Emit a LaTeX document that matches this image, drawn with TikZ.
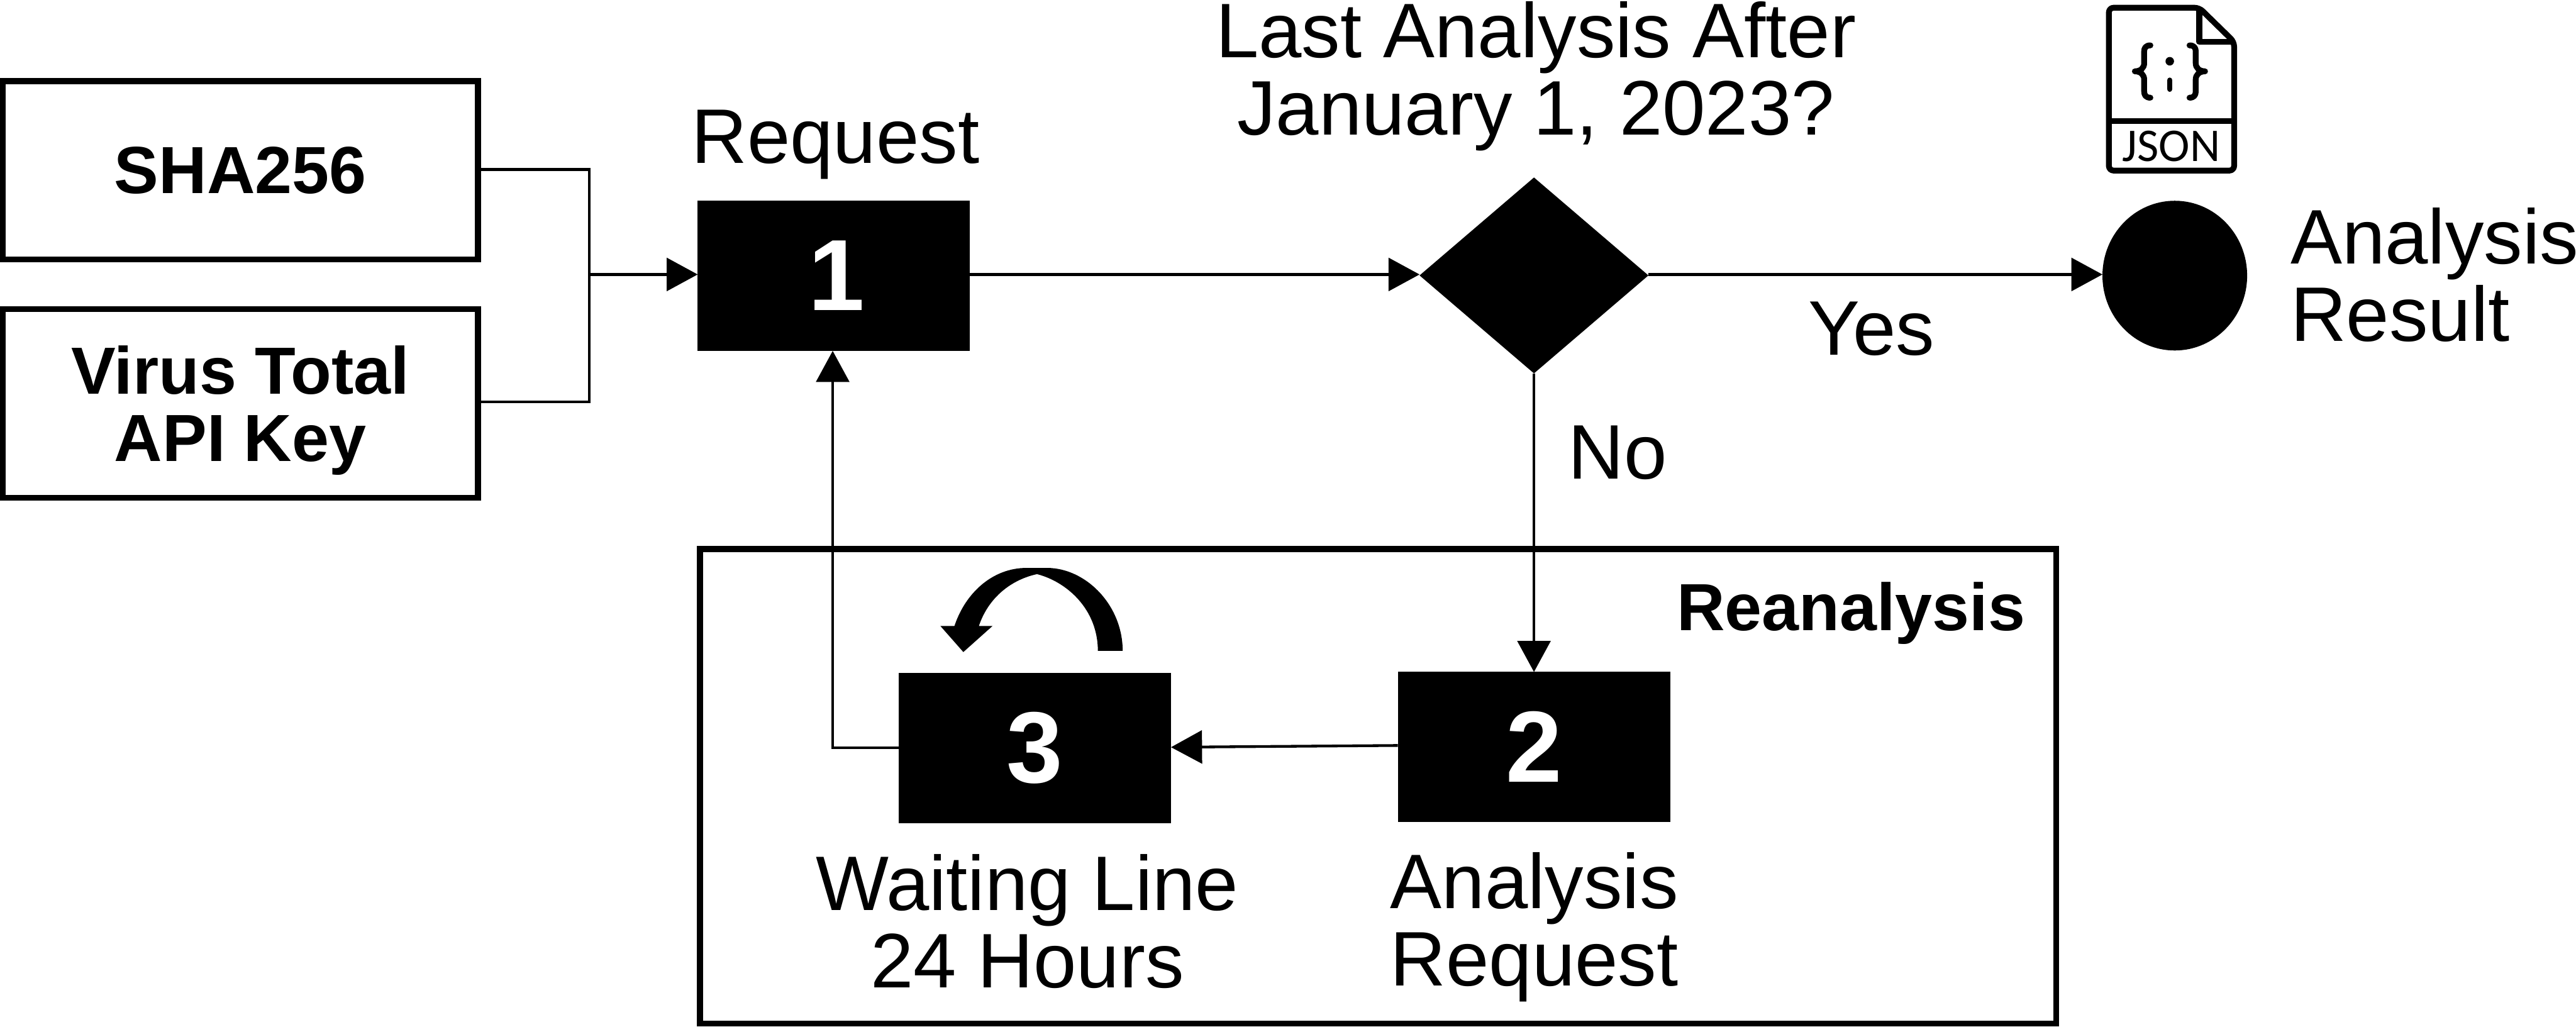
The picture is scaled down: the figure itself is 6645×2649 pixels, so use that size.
\documentclass[tikz,border=0pt]{standalone}
\usepackage{fontspec}
\setmainfont{Liberation Sans}
\newfontfamily\iconfont{Carlito}
\usetikzlibrary{arrows.meta,shapes.geometric}
\tikzset{
  inbox/.style={draw=black,line width=0.15cm,fill=white,inner sep=0,minimum width=12.25cm,align=center,font=\fontsize{48.9}{49.2}\selectfont\bfseries},
  stepbox/.style={fill=black,text=white,inner sep=0,outer sep=0,minimum width=7.02cm,minimum height=3.87cm,font=\fontsize{74.2}{76}\selectfont\bfseries},
  conn/.style={draw=black,line width=0.07cm},
  arr/.style={conn,-{Triangle[length=0.8cm,width=0.85cm]}},
  lab/.style={anchor=base,inner sep=0,align=center,font=\fontsize{56.7}{56.9}\selectfont},
  iconline/.style={line width=0.15cm,line join=round},
  iconbrace/.style={line width=0.15cm,line cap=round,line join=round}
}
\begin{document}
\begin{tikzpicture}[x=0.01cm,y=-0.01cm]
\useasboundingbox (0,0) rectangle (6645,2649);
\coordinate (main) at (0,708);
\coordinate (ya) at (0,437);
\coordinate (yb) at (0,1037);
\coordinate (jn) at (1520,708);
\coordinate (bend) at (2148,1929);
\coordinate (qout) at (0,1923);
\coordinate (win) at (0,1927.5);
% frame
\node[draw=black,line width=0.15cm,inner sep=0,minimum width=34.96cm,minimum height=12.23cm] (frame) at (3554.5,2028) {};
\node[lab,font=\fontsize{48.9}{49.2}\selectfont\bfseries] (rean) at (4775,1626) {Reanalysis};
% inputs
\node[inbox,minimum height=4.59cm] (a) at (620,439) {SHA256};
\node[inbox,minimum height=4.86cm] (b) at (620,1040.5) {Virus Total\\\smash{API Key}};
% steps
\node[stepbox] (r) at (2151,711.5) {\kern0.15cm 1};
\node[stepbox] (w) at (2669.5,1930) {3};
\node[stepbox] (q) at (3957,1927) {2};
\node[diamond,fill=black,inner sep=0,outer sep=0,aspect=1.168,minimum width=5.9cm,minimum height=5.05cm] (d) at (3957,710.5) {};
\node[ellipse,fill=black,inner sep=0,outer sep=0,minimum width=3.73cm,minimum height=3.86cm] (e) at (5610,711) {};
% connectors
\draw[conn] (a.east |- ya) -- (jn |- ya) -- (jn |- yb) -- (b.east |- yb);
\draw[arr] (jn) -- (r.west |- main);
\draw[arr] (r.east |- main) -- (d.west |- main);
\draw[arr] (d.east |- main) -- (e.west |- main);
\draw[arr] (d.south) -- (q.north);
\draw[arr] (q.west |- qout) -- (w.east |- win);
\draw[arr] (w.west |- bend) -- (bend) -- (bend |- r.south);
% labels
\node[lab] (lreq) at (2155,421) {Request};
\node[lab] (lq) at (3962,348) {Last Analysis After\\January 1, 2023?};
\node[lab] (lyes) at (4828,916) {Yes};
\node[lab] (lno) at (4173,1235) {No};
\node[lab,align=left,anchor=base west] (lres) at (5908,880) {Analysis\\Result};
\node[lab] (lwait) at (2650,2548) {Waiting Line\\24 Hours};
\node[lab] (lan) at (3958,2543) {Analysis\\Request};
% curved self arrow
\fill[black] (2896,1679) .. controls (2896,1560) and (2800,1465) .. (2701,1465) -- (2648,1465)
  .. controls (2560,1465) and (2490,1530) .. (2462,1615) -- (2426,1615) -- (2485,1682) -- (2560,1615) -- (2525,1615)
  .. controls (2550,1540) and (2610,1495) .. (2675,1481)
  .. controls (2750,1500) and (2832,1570) .. (2832,1679) -- cycle;
% JSON icon
\draw[iconline,rounded corners=0.12cm] (5673,20) -- (5440,20) -- (5440,440) -- (5763,440) -- (5763,108) -- cycle;
\draw[iconline] (5673,20) -- (5673,108) -- (5763,108);
\draw[iconline] (5440,312) -- (5763,312);
\draw[iconbrace] (5547,117) .. controls (5535,117) and (5531,124) .. (5531,132) -- (5531,163)
  .. controls (5531,175) and (5522,184) .. (5507,184)
  .. controls (5522,184) and (5531,193) .. (5531,205) -- (5531,236)
  .. controls (5531,245) and (5535,252) .. (5547,252);
\draw[iconbrace] (5648,117) .. controls (5660,117) and (5664,124) .. (5664,132) -- (5664,163)
  .. controls (5664,175) and (5673,184) .. (5688,184)
  .. controls (5673,184) and (5664,193) .. (5664,205) -- (5664,236)
  .. controls (5664,245) and (5660,252) .. (5648,252);
\fill[black] (5597,158) circle (0.11cm);
\draw[line width=0.14cm,line cap=round] (5597,207) -- (5597,230);
\node[anchor=base,inner sep=0,font=\iconfont\fontsize{34.4}{36}\selectfont] (ljson) at (5601,416) {JSON};
\end{tikzpicture}
\end{document}
